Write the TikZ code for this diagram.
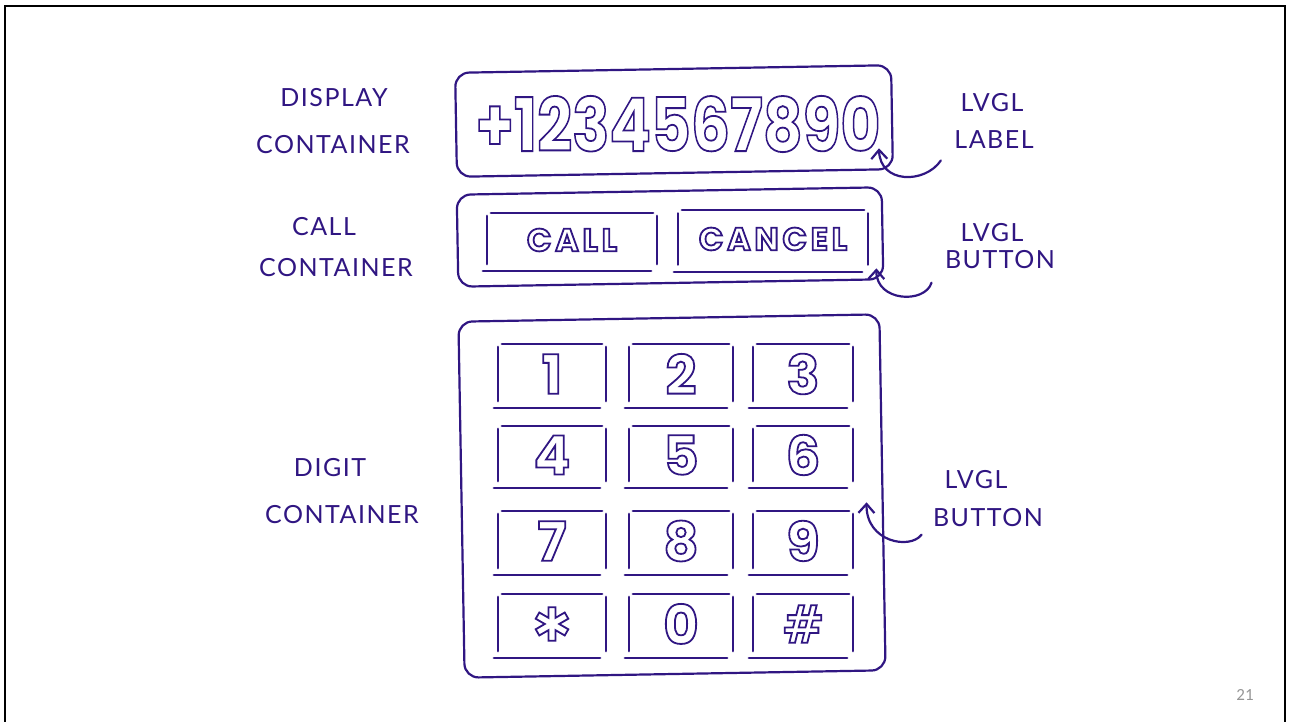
\documentclass[tikz,border=0pt]{standalone}
\usepackage{fontspec}
\usepackage{graphicx}
\setmainfont{Lato}
\newfontfamily\bubble{Poppins}
\newfontfamily\symb{DejaVu Sans}
\newfontfamily\pagefont{Carlito}
\usetikzlibrary{arrows.meta,calc}
\definecolor{ink}{RGB}{48,22,130}
\definecolor{pagegray}{RGB}{150,150,150}
\newcommand\outlinetext[1]{\special{pdf:literal direct 1 Tr 1.8 w}#1\special{pdf:literal direct 0 Tr}}
\begin{document}
\begin{tikzpicture}[x=1pt,y=-1pt,
  sk/.style={draw=ink, line width=2.2pt, line cap=round, line join=round},
  cont/.style={sk, rounded corners=14pt, inner sep=0pt},
  hand/.style={text=ink, font=\fontsize{25}{27}\selectfont\addfontfeatures{LetterSpace=6}},
  arr/.style={draw=ink, line width=2.2pt, line cap=round, -{Straight Barb[length=9pt,width=16pt]}},
  btnbox/.style={inner sep=0pt, text=ink},
  keyfont/.style={font=\bubble\bfseries\fontsize{54}{54}\selectfont},
  wordfont/.style={font=\bubble\bfseries\fontsize{32}{32}\selectfont\addfontfeatures{LetterSpace=12}},
]
\useasboundingbox (0,0) rectangle (1293,722);
\draw[line width=2.5pt] (5,722) -- (5,6) -- (1285,6) -- (1285,722);

% containers
\node[cont, minimum width=436pt, minimum height=104pt, rotate=1] (disp) at (674,121) {};
\node[cont, minimum width=425pt, minimum height=92pt, rotate=1] (callc) at (670,237) {};
\node[cont, minimum width=421pt, minimum height=356pt, rotate=1] (digc) at (672,496) {};

% display label
\node[text=ink] (dnum) at (678,124) {\scalebox{0.83}[1]{\bubble\bfseries\fontsize{74}{74}\selectfont\outlinetext{+1234567890}}};

% call buttons
\node[btnbox, wordfont, minimum width=170pt, minimum height=54pt] (bcall) at (572,240) {\outlinetext{CALL}};
\node[btnbox, wordfont, minimum width=190pt, minimum height=57pt] (bcancel) at (773,239) {\outlinetext{CANCEL}};

% digit buttons
\node[btnbox, keyfont, minimum width=108pt, minimum height=60pt] (k1) at (552,374) {\outlinetext{1}};
\node[btnbox, keyfont, minimum width=104pt, minimum height=60pt] (k2) at (681,374) {\outlinetext{2}};
\node[btnbox, keyfont, minimum width=100pt, minimum height=60pt] (k3) at (803,374) {\outlinetext{3}};
\node[btnbox, keyfont, minimum width=108pt, minimum height=58pt] (k4) at (552,455) {\outlinetext{4}};
\node[btnbox, keyfont, minimum width=104pt, minimum height=58pt] (k5) at (681,455) {\outlinetext{5}};
\node[btnbox, keyfont, minimum width=100pt, minimum height=58pt] (k6) at (803,455) {\outlinetext{6}};
\node[btnbox, keyfont, minimum width=108pt, minimum height=60pt] (k7) at (552,541) {\outlinetext{7}};
\node[btnbox, keyfont, minimum width=104pt, minimum height=60pt] (k8) at (681,541) {\outlinetext{8}};
\node[btnbox, keyfont, minimum width=100pt, minimum height=60pt] (k9) at (803,541) {\outlinetext{9}};
\node[btnbox, font=\symb\fontsize{46}{46}\selectfont, minimum width=108pt, minimum height=60pt] (kstar) at (552,624) {\outlinetext{✱}};
\node[btnbox, keyfont, minimum width=104pt, minimum height=60pt] (k0) at (681,624) {\outlinetext{0}};
\node[btnbox, font=\symb\bfseries\fontsize{52}{52}\selectfont, minimum width=100pt, minimum height=60pt] (khash) at (803,624) {\outlinetext{\#}};

% hand-drawn button strokes
\foreach \n in {bcall,bcancel,k1,k2,k3,k4,k5,k6,k7,k8,k9,kstar,k0,khash}{
  \draw[sk] ($(\n.north west)+(0,3)$) -- ($(\n.south west)+(0,-3)$);
  \draw[sk] ($(\n.north west)+(4,0)$) -- ($(\n.north east)+(-4,0)$);
  \draw[sk] ($(\n.north east)+(0,3)$) -- ($(\n.south east)+(0,-3)$);
  \draw[sk] ($(\n.south west)+(-4,4)$) -- ($(\n.south east)+(-6,4)$);
}

% left labels
\node[hand] (l1a) at (334,98) {DISPLAY};
\node[hand] (l1b) at (333,145) {CONTAINER};
\node[hand] (l2a) at (324,227) {CALL};
\node[hand] (l2b) at (336,268) {CONTAINER};
\node[hand] (l3a) at (330,468) {DIGIT};
\node[hand] (l3b) at (342,515) {CONTAINER};

% right labels
\node[hand] (r1a) at (992,103) {LVGL};
\node[hand] (r1b) at (994,140) {LABEL};
\node[hand] (r2a) at (992,233) {LVGL};
\node[hand] (r2b) at (1000,260) {BUTTON};
\node[hand] (r3a) at (976,480) {LVGL};
\node[hand] (r3b) at (988,518) {BUTTON};

% arrows
\coordinate (t1) at ($(disp.south east)+(-15,-22)$);
\coordinate (t2) at ($(callc.south east)+(-8,-12)$);
\coordinate (t3) at ($(digc.east)+(-17,10)$);
\draw[arr] ($(r1b.south west)+(-10,8)$) .. controls (925,184) and (880,184) .. (t1);
\draw[arr] ($(r2b.south west)+(-10,10)$) .. controls (925,304) and (876,302) .. (t2);
\draw[arr] ($(r3b.south west)+(-8,4)$) .. controls (910,550) and (866,542) .. (t3);

% page number
\node[text=pagegray, font=\pagefont\fontsize{17}{17}\selectfont] (pg) at (1245,695) {21};
\end{tikzpicture}
\end{document}
